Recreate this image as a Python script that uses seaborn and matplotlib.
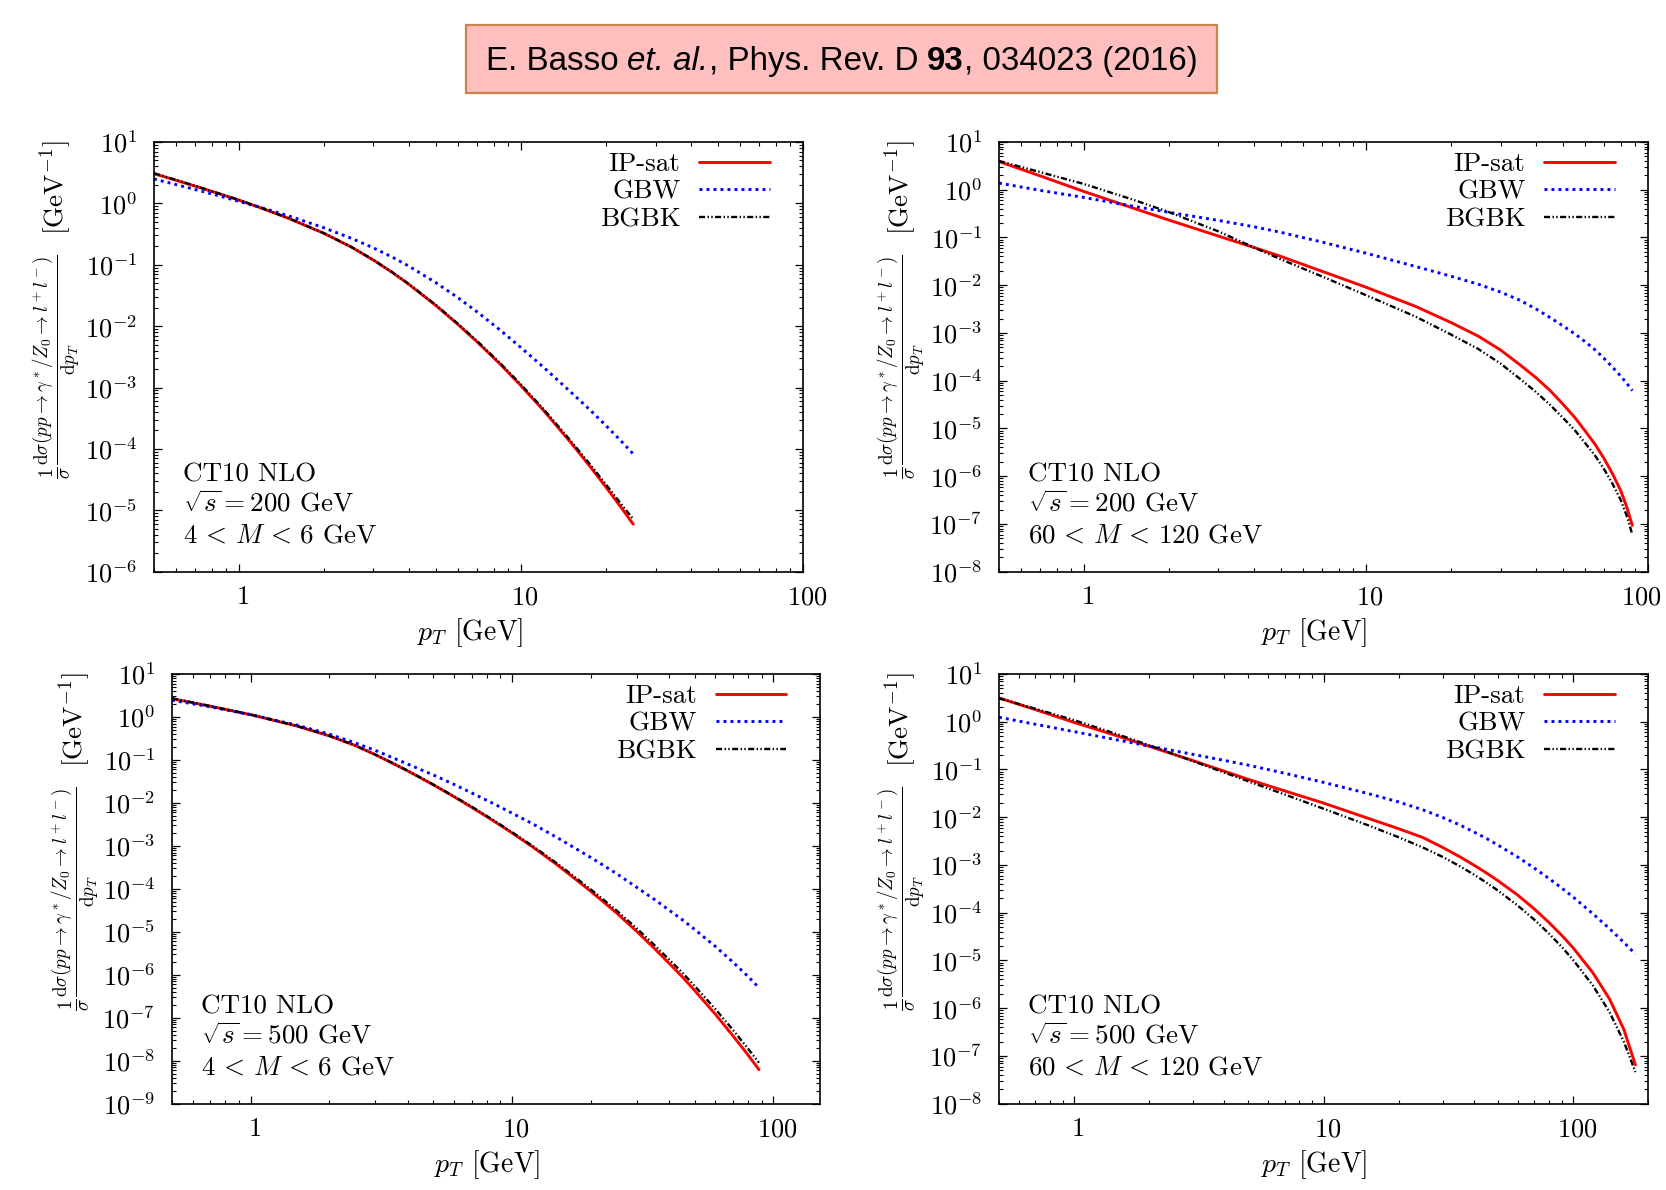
import numpy as np
import matplotlib
matplotlib.use("Agg")
import matplotlib.pyplot as plt
import seaborn as sns
from matplotlib.ticker import LogLocator, FixedLocator, FuncFormatter, NullFormatter
from matplotlib.patches import Rectangle
from matplotlib.transforms import ScaledTranslation

# ---------------- data ----------------
models = ["IP-sat", "GBW", "BGBK"]

# top-left: sqrt(s)=200 GeV, 4<M<6 GeV
pt_tl = [0.5, 0.6, 0.7, 0.85, 1, 1.2, 1.5, 2, 2.5, 3, 3.5, 4, 5, 6, 7, 8.5, 10, 12, 15,
         17.5, 20, 22.5, 25]
ipsat_tl = [3.05, 2.37, 1.91, 1.44, 1.13, 0.84, 0.571, 0.326, 0.195, 0.119, 0.0748, 0.0482,
            0.0216, 0.0105, 5.51e-3, 2.33e-3, 1.07e-3, 4.28e-4, 1.28e-4, 5.31e-5, 2.4e-5,
            1.16e-5, 5.94e-6]
gbw_tl = [2.5, 2.02, 1.68, 1.33, 1.08, 0.853, 0.627, 0.401, 0.271, 0.188, 0.133, 0.0953,
          0.0509, 0.0287, 0.017, 8.4e-3, 4.47e-3, 2.16e-3, 8.5e-4, 4.4e-4, 2.41e-4, 1.39e-4,
          8.3e-5]
bgbk_tl = [3.1, 2.4, 1.93, 1.45, 1.14, 0.845, 0.573, 0.327, 0.196, 0.12, 0.0755, 0.0488,
           0.022, 0.0108, 5.7e-3, 2.42e-3, 1.12e-3, 4.5e-4, 1.36e-4, 5.75e-5, 2.65e-5,
           1.32e-5, 7.2e-6]

# top-right: sqrt(s)=200 GeV, 60<M<120 GeV
pt_tr = [0.5, 0.7, 1, 1.5, 2, 3, 4, 5, 7, 10, 15, 20, 25, 30, 35, 40, 45, 50, 55, 60, 65,
         70, 75, 80, 84, 88]
ipsat_tr = [3.9, 1.95, 0.92, 0.41, 0.232, 0.107, 0.062, 0.04, 0.0195, 9.1e-3, 3.6e-3,
            1.66e-3, 8.6e-4, 4.4e-4, 2.2e-4, 1.17e-4, 6.2e-5, 3.2e-5, 1.7e-5, 8.7e-6,
            4.6e-6, 2.3e-6, 1.1e-6, 5.0e-7, 2.3e-7, 9.3e-8]
gbw_tr = [1.38, 0.97, 0.69, 0.45, 0.336, 0.228, 0.168, 0.128, 0.08, 0.047, 0.0247, 0.0155,
          0.0105, 7.2e-3, 4.9e-3, 3.2e-3, 2.1e-3, 1.4e-3, 9.6e-4, 6.5e-4, 4.4e-4, 2.9e-4,
          1.9e-4, 1.25e-4, 8.9e-5, 6.2e-5]
bgbk_tr = [4.0, 2.34, 1.32, 0.615, 0.341, 0.134, 0.062, 0.0348, 0.0152, 6.2e-3, 2.2e-3,
           9.3e-4, 4.64e-4, 2.29e-4, 1.12e-4, 5.85e-5, 3.1e-5, 1.66e-5, 9.2e-6, 4.87e-6,
           2.67e-6, 1.38e-6, 6.8e-7, 3.2e-7, 1.5e-7, 6.0e-8]

# bottom-left: sqrt(s)=500 GeV, 4<M<6 GeV
pt_bl = [0.5, 0.7, 1, 1.5, 2, 2.5, 3, 3.5, 4, 5, 6, 7, 8.5, 10, 12, 15, 20, 25, 30, 35, 40,
         45, 50, 60, 70, 80, 88]
ipsat_bl = [2.67, 1.78, 1.13, 0.617, 0.363, 0.219, 0.132, 0.083, 0.055, 0.0263, 0.0139,
            7.94e-3, 3.8e-3, 2.0e-3, 9.4e-4, 3.49e-4, 8.77e-5, 2.81e-5, 1.02e-5, 4.12e-6,
            1.82e-6, 8.7e-7, 4.27e-7, 1.2e-7, 3.8e-8, 1.35e-8, 6.2e-9]
gbw_bl = [2.45, 1.72, 1.13, 0.646, 0.398, 0.251, 0.166, 0.112, 0.0794, 0.0447, 0.0269,
          0.0171, 9.6e-3, 5.77e-3, 3.25e-3, 1.51e-3, 5.37e-4, 2.3e-4, 1.08e-4, 5.7e-5,
          3.15e-5, 1.87e-5, 1.13e-5, 4.54e-6, 1.97e-6, 9.1e-7, 5.0e-7]
bgbk_bl = [2.72, 1.8, 1.14, 0.62, 0.364, 0.22, 0.133, 0.0838, 0.0557, 0.0268, 0.0142,
           8.2e-3, 3.95e-3, 2.08e-3, 9.9e-4, 3.75e-4, 9.7e-5, 3.2e-5, 1.2e-5, 4.95e-6,
           2.23e-6, 1.09e-6, 5.45e-7, 1.58e-7, 5.2e-8, 1.9e-8, 9.0e-9]

# bottom-right: sqrt(s)=500 GeV, 60<M<120 GeV
pt_br = [0.5, 0.7, 1, 1.5, 2, 3, 4, 5, 7, 10, 15, 20, 25, 30, 35, 40, 45, 50, 60, 70, 80,
         90, 100, 120, 140, 160, 178]
ipsat_br = [3.15, 1.79, 0.97, 0.5, 0.306, 0.153, 0.092, 0.062, 0.0355, 0.0198, 9.6e-3,
            5.75e-3, 3.77e-3, 2.34e-3, 1.51e-3, 1.0e-3, 6.8e-4, 4.7e-4, 2.35e-4, 1.2e-4,
            6.3e-5, 3.4e-5, 1.86e-5, 5.6e-6, 1.58e-6, 3.6e-7, 6.5e-8]
gbw_br = [1.24, 0.885, 0.62, 0.413, 0.31, 0.207, 0.155, 0.123, 0.0832, 0.0537, 0.0316,
          0.0209, 0.0143, 9.93e-3, 6.97e-3, 4.95e-3, 3.59e-3, 2.62e-3, 1.47e-3, 8.6e-4,
          5.25e-4, 3.32e-4, 2.15e-4, 9.6e-5, 4.67e-5, 2.39e-5, 1.36e-5]
bgbk_br = [3.1, 1.87, 1.08, 0.541, 0.322, 0.149, 0.0863, 0.0565, 0.0299, 0.0151, 6.87e-3,
           3.81e-3, 2.33e-3, 1.48e-3, 9.6e-4, 6.34e-4, 4.28e-4, 2.92e-4, 1.42e-4, 7.16e-5,
           3.7e-5, 1.95e-5, 1.04e-5, 3.03e-6, 8.4e-7, 2.0e-7, 4.6e-8]

x_ticks = [1, 10, 100]
panel_notes = [
    ["CT10 NLO", r"$\sqrt{s} = 200$ GeV", r"$4\,<\,M\,<\,6$ GeV"],
    ["CT10 NLO", r"$\sqrt{s} = 200$ GeV", r"$60\,<\,M\,<\,120$ GeV"],
    ["CT10 NLO", r"$\sqrt{s} = 500$ GeV", r"$4\,<\,M\,<\,6$ GeV"],
    ["CT10 NLO", r"$\sqrt{s} = 500$ GeV", r"$60\,<\,M\,<\,120$ GeV"],
]
title_parts = ["E. Basso", "et. al.", ", Phys. Rev. D", "93", ", 034023 (2016)"]

# ---------------- style ----------------
sns.set_style("ticks")
plt.rcParams.update({
    "font.family": "cmr10",
    "mathtext.fontset": "cm",
    "axes.formatter.use_mathtext": True,
    "axes.unicode_minus": False,
    "axes.edgecolor": "black",
    "axes.labelcolor": "black",
    "text.color": "black",
    "xtick.color": "black",
    "ytick.color": "black",
})

W, H = 1666, 1190
fig = plt.figure(figsize=(W / 100, H / 100), dpi=100)
overlay = fig.add_axes([0, 0, 1, 1])
overlay.axis("off")
overlay.set_zorder(5)


def add_axes(l, r, t, b):
    return fig.add_axes([l / W, 1 - b / H, (r - l) / W, (b - t) / H])


panels = [
    dict(rect=(154, 803, 142, 571.7), xlim=(0.5, 100), ylim=(1e-6, 10),
         pt=pt_tl, vals=[ipsat_tl, gbw_tl, bgbk_tl], xl=0.487, edge=False),
    dict(rect=(999, 1648, 142, 571.7), xlim=(0.5, 100), ylim=(1e-8, 10),
         pt=pt_tr, vals=[ipsat_tr, gbw_tr, bgbk_tr], xl=0.485, edge=True),
    dict(rect=(172, 819.5, 674, 1103.7), xlim=(0.5, 150), ylim=(1e-9, 10),
         pt=pt_bl, vals=[ipsat_bl, gbw_bl, bgbk_bl], xl=0.486, edge=False),
    dict(rect=(999, 1648, 674, 1103.7), xlim=(0.5, 200), ylim=(1e-8, 10),
         pt=pt_br, vals=[ipsat_br, gbw_br, bgbk_br], xl=0.485, edge=False),
]

line_styles = [
    dict(color="#ff0000", lw=2.1, linestyle="-"),
    dict(color="#0000ff", lw=2.1, linestyle=(0, (1, 1.4))),
    dict(color="black", lw=1.7, linestyle=(0, (2.6, 1.0, 0.6, 1.0, 0.6, 1.0))),
]

ylabel = (r"$\frac{1}{\sigma}\frac{\mathrm{d}\sigma(pp\to\gamma^*/Z_0\to l^+l^-)}"
          r"{\mathrm{d}p_T}$  [GeV$^{-1}$]")
xshift = ScaledTranslation(4 / 100, 0, fig.dpi_scale_trans)
edge_shift = ScaledTranslation(-7 / 100, 0, fig.dpi_scale_trans)

for i, p in enumerate(panels):
    ax = add_axes(*p["rect"])
    for name, vals, st in zip(models, p["vals"], line_styles):
        sns.lineplot(x=p["pt"], y=vals, ax=ax, label=name, sort=False, estimator=None, **st)
    ax.set_xscale("log")
    ax.set_yscale("log")
    ax.set_xlim(*p["xlim"])
    ax.set_ylim(*p["ylim"])
    ax.xaxis.set_major_locator(FixedLocator(x_ticks))
    ax.xaxis.set_major_formatter(FuncFormatter(lambda v, q: r"$%d$" % round(v)))
    ax.xaxis.set_minor_locator(LogLocator(10, subs=np.arange(2, 10), numticks=60))
    ax.xaxis.set_minor_formatter(NullFormatter())
    ax.yaxis.set_major_locator(LogLocator(10, numticks=60))
    ax.yaxis.set_major_formatter(FuncFormatter(lambda v, q: r"$10^{%d}$" % round(np.log10(v))))
    ax.yaxis.set_minor_locator(LogLocator(10, subs=np.arange(2, 10), numticks=60))
    ax.yaxis.set_minor_formatter(NullFormatter())
    ax.tick_params(which="both", direction="in", top=True, right=True)
    ax.tick_params(which="major", length=5.5, width=0.9, labelsize=19)
    ax.tick_params(which="minor", length=2.7, width=0.8)
    ax.tick_params(axis="y", which="major", pad=12)
    ax.tick_params(axis="x", which="major", pad=10)
    for s in ax.spines.values():
        s.set_linewidth(1.2)
        s.set_color("black")
    labels = ax.xaxis.get_majorticklabels()
    for k, lbl in enumerate(labels):
        if p["edge"] and k == len(labels) - 1:
            lbl.set_transform(lbl.get_transform() + edge_shift)
        else:
            lbl.set_transform(lbl.get_transform() + xshift)

    ax.set_ylabel(ylabel, fontsize=19.5)
    ax.yaxis.set_label_coords(-0.148, 0.609)
    ax.yaxis.label.set_va("center")
    ax.set_xlabel(r"$p_T$ [GeV]", fontsize=20)
    ax.xaxis.set_label_coords(p["xl"], -0.104)

    for txt, yy in zip(panel_notes[i], [0.211, 0.140, 0.067]):
        ax.text(0.045, yy, txt, transform=ax.transAxes, fontsize=19.5, va="baseline", ha="left")

    handles = ax.get_lines()[:3]
    leg = ax.legend(handles, models, loc="upper right", bbox_to_anchor=(0.949, 0.976),
                    frameon=False, fontsize=19.5, markerfirst=False, borderaxespad=0,
                    borderpad=0, handlelength=2.6, handletextpad=0.7, labelspacing=0.13)
    for col in leg._legend_handle_box.get_children():
        col.align = "right"

# ---------------- reference banner ----------------
overlay.add_patch(Rectangle((465.5 / W, 1 - 93.3 / H), (1216.5 - 465.5) / W, (93.3 - 25) / H,
                            transform=fig.transFigure, facecolor="#ffbfbf",
                            edgecolor="#c8844c", lw=1.6, zorder=1))
tsize = 23.9
tfam = "Liberation Sans"
space = 0.278 * tsize
t0 = overlay.text(485.6 / W, 1 - 70 / H, title_parts[0], transform=fig.transFigure,
                  fontsize=tsize, family=tfam, va="baseline", ha="left", zorder=3,
                  color="black")
styles = [dict(style="italic"), dict(), dict(weight="bold"), dict()]
gaps = [space, 0, space, 0]
prev = t0
for part, st, g in zip(title_parts[1:], styles, gaps):
    prev = overlay.annotate(part, xy=(1, 0), xycoords=prev, xytext=(g, 0),
                            textcoords="offset points", va="bottom", ha="left",
                            fontsize=tsize, family=tfam, zorder=3, color="black", **st)

fig.savefig("out.png", dpi=100)
